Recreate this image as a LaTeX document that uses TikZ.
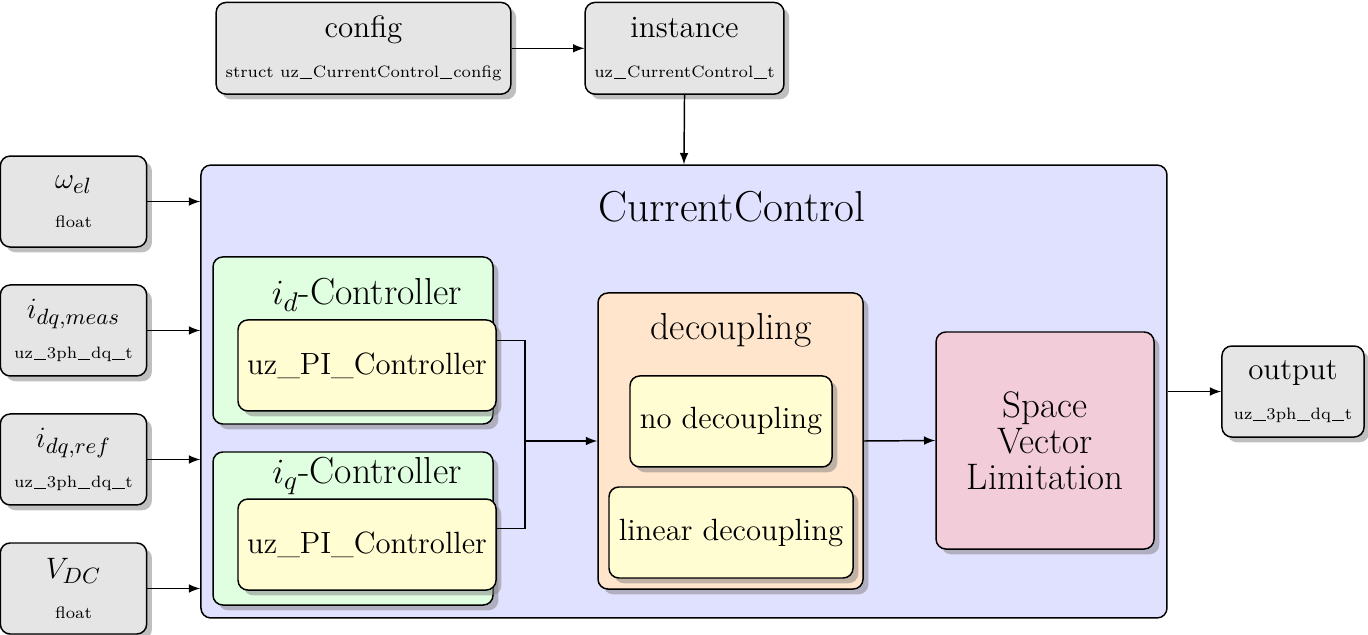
\documentclass[tikz,border=0pt]{standalone}
\usepackage{tikz}
\usetikzlibrary{shadows,positioning}
\usepackage{amsmath}

\newcommand{\tus}{\kern.05em\rule[-.25ex]{.75em}{.05em}\kern.05em}
\newcommand{\typefont}{\fontsize{6.7}{8}\selectfont}

\begin{document}
\begin{tikzpicture}[->,>=latex,line width=0.6pt]
    \tikzstyle{block}=[draw=black,rounded corners=4pt,align=center,inner sep=0pt]
    \tikzstyle{data block}=[block,fill=black!10,drop shadow,minimum height=1.3cm]
    \tikzstyle{group block}=[block,drop shadow]
    \tikzstyle{sub block}=[block,fill=yellow!18,drop shadow,minimum height=1.3cm,font=\fontsize{12.5}{15}\selectfont]
    \tikzstyle{title}=[font=\fontsize{15.3}{18}\selectfont]

    \useasboundingbox (0,0) rectangle (19.543,-9.071);

    % The CurrentControl module
    \node[block,fill=blue!12,minimum width=13.8cm,minimum height=6.47cm] (cc) at (9.771,-5.593) {};
    \node[font=\fontsize{17.6}{21}\selectfont] (cc-title) at (10.457,-2.957) {CurrentControl};

    % Config and instance
    \node[data block,minimum width=4.21cm,minimum height=1.31cm] (config) at (5.193,-0.69) {\fontsize{12.6}{15}\selectfont config\\[4pt]\typefont struct uz\tus CurrentControl\tus config};
    \node[data block,minimum width=2.84cm,minimum height=1.31cm] (inst) at (9.779,-0.69) {\fontsize{12.6}{15}\selectfont instance\\[4pt]\typefont uz\tus CurrentControl\tus t};
    \draw (config.east) -- (inst.west);
    \draw (inst.south) -- (cc.north);

    % Draw the input nodes
    \foreach \name/\y/\sym/\type in {wel/2.879/{\omega_{el}}/float, imeas/4.721/{i_{dq,meas}}/uz\tus 3ph\tus dq\tus t, iref/6.564/{i_{dq,ref}}/uz\tus 3ph\tus dq\tus t, vdc/8.407/{V_{DC}}/float}
        \node[data block,minimum width=2.09cm] (\name) at (1.05,-\y) {\fontsize{12.6}{15}\selectfont$\sym$\\[4pt]\typefont \type};
    \foreach \name in {wel,imeas,iref,vdc}
        \draw (\name.east) -- (\name.east -| cc.west);

    % Current controllers
    \node[group block,fill=green!12,minimum width=4cm,minimum height=2.386cm] (idc) at (5.043,-4.864) {};
    \node[sub block,minimum width=3.686cm] (idpi) at (5.243,-5.221) {uz\_PI\_Controller};
    \node[title] (idc-title) at (5.243,-4.214) {$i_d$-Controller};
    \node[group block,fill=green!12,minimum width=4cm,minimum height=2.186cm] (iqc) at (5.043,-7.55) {};
    \node[sub block,minimum width=3.686cm] (iqpi) at (5.243,-7.779) {uz\_PI\_Controller};
    \node[title] (iqc-title) at (5.243,-6.8) {$i_q$-Controller};

    % Decoupling
    \node[group block,fill=orange!20,minimum width=3.786cm,minimum height=4.229cm] (dec) at (10.436,-6.3) {};
    \node[title] (dec-title) at (10.443,-4.714) {decoupling};
    \node[sub block,minimum width=2.886cm] (nodec) at (10.443,-6.021) {no decoupling};
    \node[sub block,minimum width=3.486cm] (lindec) at (10.443,-7.607) {linear decoupling};

    % Limitation and output
    \node[group block,fill=purple!20,minimum width=3.114cm,minimum height=3.1cm,font=\fontsize{15}{14.7}\selectfont] (svl) at (14.929,-6.293) {Space\\Vector\\Limitation};
    \node[data block,minimum width=2.03cm] (out) at (18.471,-5.593) {\fontsize{12.6}{15}\selectfont output\\[4pt]\typefont uz\tus 3ph\tus dq\tus t};

    % Connect the blocks
    \coordinate (jn) at (7.5,-6.3);
    \draw[-] (idc.east -| idpi.east) -| (jn);
    \draw[-] (iqc.east -| iqpi.east) -| (jn);
    \draw (jn) -- (dec.west);
    \draw (dec.east) -- (svl.west);
    \draw (cc.east) -- (out.west);
\end{tikzpicture}
\end{document}
